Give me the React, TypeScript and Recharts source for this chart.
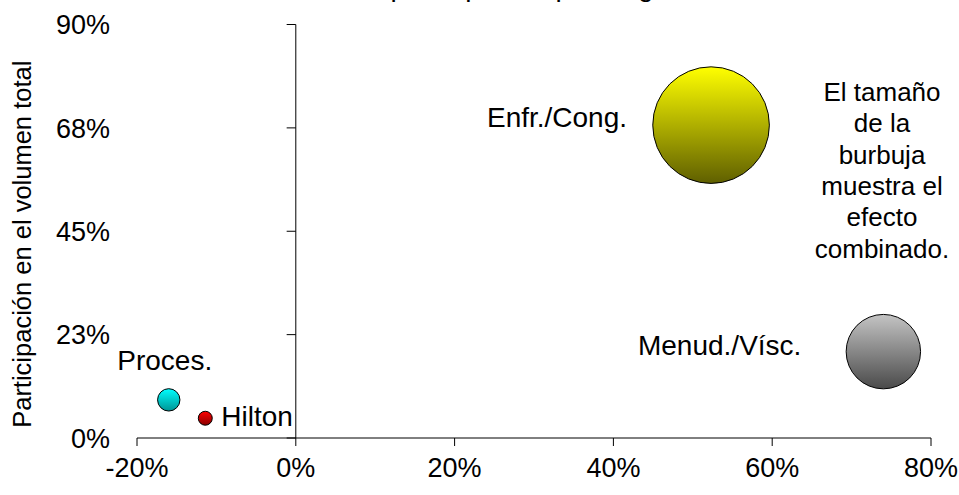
import { ReferenceLine, Scatter, ScatterChart, XAxis, YAxis, ZAxis } from "recharts";

const segments = ["Proces.", "Hilton", "Enfr./Cong.", "Menud./Vísc."];
const growth = [-0.16, -0.114, 0.523, 0.74];
const share = [0.083, 0.043, 0.681, 0.188];
const effect = [1.31, 0.51, 35.6, 14.5];

const xTicks = [-0.2, 0, 0.2, 0.4, 0.6, 0.8];
const yTicks = [0, 0.225, 0.45, 0.675, 0.9];

const title = "Crecimiento vs. participación por Segmento de Producto";
const note = ["El tamaño", "de la", "burbuja", "muestra el", "efecto", "combinado."];

const FONT = '"Liberation Sans", Arial, sans-serif';

// colours and label placement per segment
const look: Record<string, { top: string; bottom: string; anchor: string; dx: number; dy: number }> = {
  "Proces.": { top: "#00ffff", bottom: "#009494", anchor: "middle", dx: -4, dy: -30 },
  Hilton: { top: "#ff0000", bottom: "#8a0000", anchor: "start", dx: 16, dy: 8 },
  "Enfr./Cong.": { top: "#ffff00", bottom: "#5f5f00", anchor: "end", dx: -84, dy: 2 },
  "Menud./Vísc.": { top: "#c4c4c4", bottom: "#4a4a4a", anchor: "end", dx: -82, dy: 3 },
};

const data = segments.map((name, i) => ({ name, x: growth[i], y: share[i], z: effect[i] }));

const pct = (v: number) => `${Math.round(v * 100)}%`;

const Bubble = (props: any) => {
  const { cx, cy, width, payload } = props;
  const r = width / 2;
  const s = look[payload.name];
  const id = "g" + segments.indexOf(payload.name);
  return (
    <g>
      <defs>
        <linearGradient id={id} x1="0" y1="0" x2="0" y2="1">
          <stop offset="0%" stopColor={s.top} />
          <stop offset="100%" stopColor={s.bottom} />
        </linearGradient>
      </defs>
      <circle cx={cx} cy={cy} r={r} fill={`url(#${id})`} stroke="#000" strokeWidth={1} />
      <text
        x={cx + s.dx}
        y={cy + s.dy}
        textAnchor={s.anchor as any}
        fontSize={28}
        fontFamily={FONT}
        fill="#000"
      >
        {payload.name}
      </text>
    </g>
  );
};

const YTick = ({ x, y, payload }: any) => (
  <text x={x} y={y} dy="0.36em" textAnchor="end" fontSize={27} fontFamily={FONT} fill="#000">
    {pct(payload.value)}
  </text>
);

const YLabel = ({ viewBox }: any) => {
  const cx = viewBox.x + 22;
  const cy = viewBox.y + viewBox.height / 2 + 13;
  return (
    <text
      x={cx}
      y={cy}
      transform={`rotate(-90, ${cx}, ${cy})`}
      textAnchor="middle"
      dominantBaseline="central"
      fontSize={25.5}
      fontFamily={FONT}
      fill="#000"
    >
      Participación en el volumen total
    </text>
  );
};

export default function App() {
  return (
    <div style={{ position: "absolute", left: 0, top: 0, width: 959, height: 495, background: "#fff", overflow: "hidden" }}>
      <div
        style={{
          position: "absolute",
          left: 0,
          width: 1080,
          top: -29.5,
          textAlign: "center",
          fontFamily: FONT,
          fontSize: 28,
          whiteSpace: "nowrap",
        }}
      >
        {title}
      </div>
      <ScatterChart width={959} height={495} margin={{ top: 24.5, right: 28, bottom: 0, left: 0 }}>
        <XAxis
          type="number"
          dataKey="x"
          domain={[-0.2, 0.8]}
          ticks={xTicks}
          tickFormatter={pct}
          height={57}
          stroke="#000"
          tickSize={8}
          tickMargin={12}
          tick={{ fill: "#000", fontSize: 27, fontFamily: FONT }}
        />
        <YAxis
          type="number"
          dataKey="y"
          domain={[0, 0.9]}
          ticks={yTicks}
          width={137}
          axisLine={false}
          tickLine={false}
          tickSize={6}
          tickMargin={21}
          tick={<YTick />}
          label={<YLabel />}
        />
        <ZAxis type="number" dataKey="z" domain={[0, 100]} range={[0, 30000]} />
        <ReferenceLine x={0} stroke="#000" strokeWidth={1} />
        {yTicks.map((t) => (
          <ReferenceLine
            key={t}
            segment={[
              { x: -0.0115, y: t },
              { x: 0, y: t },
            ]}
            stroke="#000"
            strokeWidth={1}
          />
        ))}
        <Scatter data={data} shape={<Bubble />} isAnimationActive={false} />
      </ScatterChart>
      <div
        style={{
          position: "absolute",
          left: 802,
          width: 160,
          top: 76.7,
          textAlign: "center",
          fontFamily: FONT,
          fontSize: 26,
          lineHeight: "31.4px",
        }}
      >
        {note.map((l) => (
          <div key={l}>{l}</div>
        ))}
      </div>
    </div>
  );
}
